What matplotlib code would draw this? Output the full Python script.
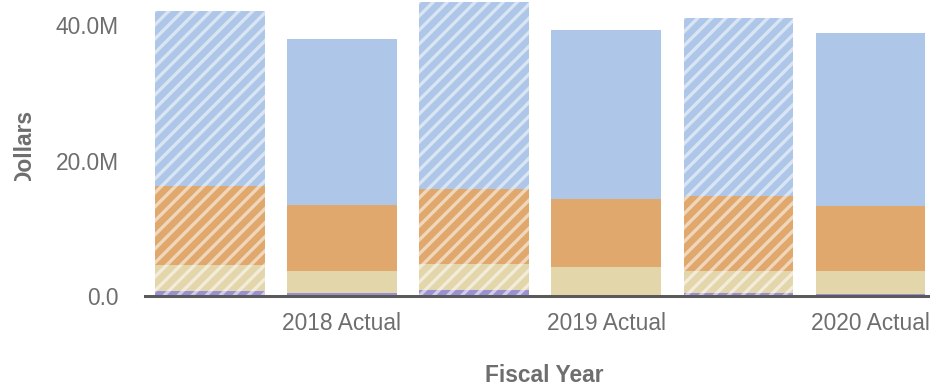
"""
予算と実績の積み上げ棒グラフを描画するスクリプト
"""
import matplotlib
matplotlib.use("Agg")
import numpy as np
import matplotlib.pyplot as plt
from matplotlib.lines import Line2D
from matplotlib.patches import Rectangle
from matplotlib.ticker import FuncFormatter
from matplotlib.transforms import Bbox, IdentityTransform

plt.rcParams["font.family"] = ["Liberation Sans", "DejaVu Sans"]

DPI = 78

# 棒の並び (予算, 実績 を年度ごとに交互)
bar_labels = ["", "2018 Actual", "", "2019 Actual", "", "2020 Actual"]
is_budget = [True, False, True, False, True, False]

# 各区分の金額 (百万ドル)
seg_purple = [0.75, 0.4, 0.9, 0.15, 0.4, 0.35]
seg_tan = [3.85, 3.3, 3.8, 4.15, 3.3, 3.35]
seg_orange = [11.6, 9.7, 11.1, 10.0, 11.1, 9.6]
seg_blue = [25.9, 24.5, 27.6, 25.0, 26.2, 25.5]

segments = [seg_purple, seg_tan, seg_orange, seg_blue]
colors = ["#9c90d4", "#e3d6ab", "#e0a86c", "#aec6e8"]

TEXT_GRAY = "#6e6e6e"
FS = 21
BAR_W = 0.83
STRIPE_STEP = 14  # 斜線の間隔 (px)


def millions(v, _pos):
    """
    目盛りの書式 (0 は単位なし)
    """
    if abs(v) < 1e-9:
        return "0.0"
    return f"{v:.1f}M"


def add_stripes(ax, xc, total):
    """
    予算の棒に白い斜線を重ねる
    """
    clip = Rectangle((xc - BAR_W / 2, 0), BAR_W, total, transform=ax.transData)
    (x0, y0), (x1, y1) = ax.transData.transform(
        [(xc - BAR_W / 2, 0), (xc + BAR_W / 2, total)])
    h = y1 - y0
    for c in np.arange(x0 - h, x1 + STRIPE_STEP, STRIPE_STEP):
        line = Line2D([c, c + h], [y0, y1], transform=IdentityTransform(),
                      color=(1, 1, 1, 0.55), linewidth=3.0, zorder=3)
        ax.add_artist(line)
        line.set_clip_path(clip)


def draw_chart():
    """
    積み上げ棒グラフを描画する関数
    """
    fig = plt.figure(figsize=(930 / DPI, 389 / DPI), dpi=DPI)
    ax = fig.add_axes([145 / 930, 93 / 389, 785 / 930, 296 / 389])
    ax.set_xlim(-0.49, 5.45)
    ax.set_ylim(0, 43.7)

    x = list(range(len(bar_labels)))
    bottoms = [0.0] * len(x)
    for seg, color in zip(segments, colors):
        ax.bar(x, seg, bottom=bottoms, width=BAR_W, color=color, linewidth=0)
        bottoms = [b + s for b, s in zip(bottoms, seg)]

    for i in x:
        if is_budget[i]:
            add_stripes(ax, i, bottoms[i])

    ax.set_yticks([0, 20, 40])
    ax.yaxis.set_major_formatter(FuncFormatter(millions))
    ax.set_xticks([1, 3, 5])
    ax.set_xticklabels([bar_labels[i] for i in (1, 3, 5)])

    for side in ("top", "right", "left"):
        ax.spines[side].set_visible(False)
    ax.spines["bottom"].set_color("#5a5a5a")
    ax.spines["bottom"].set_linewidth(2.8)
    ax.spines["bottom"].set_zorder(5)

    ax.tick_params(axis="both", length=0, labelsize=FS, colors=TEXT_GRAY)
    ax.tick_params(axis="y", pad=24)
    ax.tick_params(axis="x", pad=15)

    fig.text(544 / 930, 1 - 376 / 389, "Fiscal Year", ha="center", va="center",
             fontsize=FS, fontweight="bold", color=TEXT_GRAY)

    # 縦軸ラベル (下端が枠で切れている)
    ylab = fig.text(24 / 930, 1 - 147 / 389, "Dollars", ha="center", va="center",
                    rotation=90, fontsize=FS, fontweight="bold", color=TEXT_GRAY)
    ylab.set_clip_box(Bbox([[0, 389 - 181], [120, 389]]))
    ylab.set_clip_on(True)

    fig.savefig("out.png", dpi=DPI, facecolor="white")


def main():
    """
    メイン関数
    """
    draw_chart()


if __name__ == "__main__":
    main()
